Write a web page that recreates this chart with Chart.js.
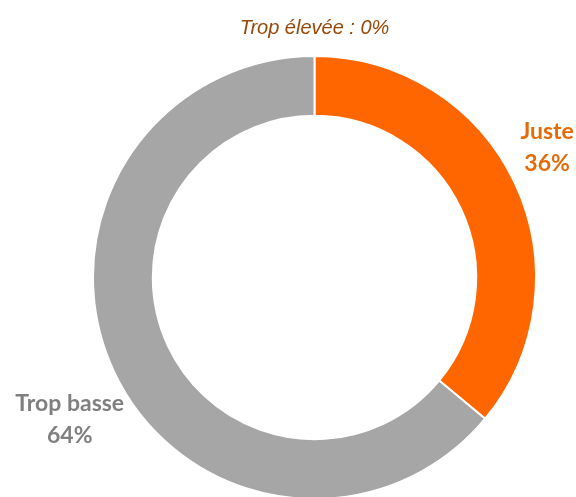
<!DOCTYPE html>
<html>
<head>
<meta charset="utf-8">
<script src="https://cdn.jsdelivr.net/npm/chart.js@4"></script>
<style>
  html, body { margin: 0; padding: 0; background: #fff; overflow: hidden; }
  #wrap { position: relative; width: 576px; height: 500px; }
</style>
</head>
<body>
<div id="wrap"><canvas id="donut"></canvas></div>
<script>
// values
const categories = ['Trop élevée', 'Juste', 'Trop basse'];
const shares = [0, 36, 64];
const sliceColors = ['#984807', '#FF6600', '#A6A6A6'];

// label styling per category (text only)
const labelStyles = [
  { font: 'italic 20px "Liberation Sans", Arial, sans-serif', color: '#984807', oneLine: true, off: [0, -1.125] },
  { font: 'bold 23px Lato, "Open Sans", sans-serif', color: '#E36C09', oneLine: false, off: [1.05, -0.585] },
  { font: 'bold 23px Lato, "Open Sans", sans-serif', color: '#7F7F7F', oneLine: false, off: [-1.105, 0.64] }
];

const sliceLabels = {
  id: 'sliceLabels',
  afterDraw(chart) {
    const ctx = chart.ctx;
    const arcs = chart.getDatasetMeta(0).data;
    ctx.save();
    ctx.textAlign = 'center';
    ctx.textBaseline = 'middle';
    arcs.forEach((arc, i) => {
      const st = labelStyles[i];
      const r = arc.outerRadius;
      const x = arc.x + st.off[0] * r;
      const y = arc.y + st.off[1] * r;
      const val = shares[i] + '%';
      ctx.font = st.font;
      ctx.fillStyle = st.color;
      if (st.oneLine) {
        ctx.fillText(categories[i] + ' : ' + val, x, y);
      } else {
        ctx.fillText(categories[i], x, y - 16);
        ctx.fillText(val, x, y + 16);
      }
    });
    ctx.restore();
  }
};

new Chart(document.getElementById('donut'), {
  type: 'doughnut',
  data: {
    labels: categories,
    datasets: [{
      data: shares,
      backgroundColor: sliceColors,
      borderColor: '#ffffff',
      borderWidth: 2
    }]
  },
  options: {
    responsive: true,
    maintainAspectRatio: false,
    animation: false,
    cutout: '73%',
    layout: { padding: { left: 92, right: 39, top: 55, bottom: 0 } },
    plugins: {
      legend: { display: false },
      tooltip: { enabled: false }
    }
  },
  plugins: [sliceLabels]
});
</script>
</body>
</html>
